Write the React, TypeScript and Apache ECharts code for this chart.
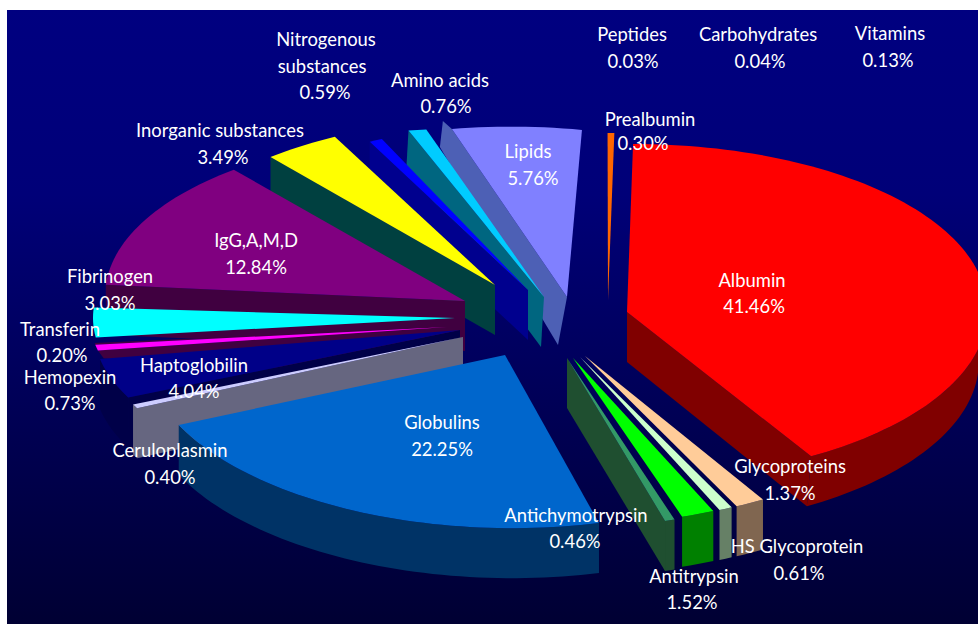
import React, { useEffect, useRef } from "react";
import * as echarts from "echarts";

// Plasma protein composition, clockwise from twelve o'clock.
const sliceNames = [
  "Albumin", "Glycoproteins", "HS Glycoprotein", "Antitrypsin", "Antichymotrypsin",
  "Globulins", "Ceruloplasmin", "Haptoglobilin", "Hemopexin", "Transferin",
  "Fibrinogen", "IgG,A,M,D", "Inorganic substances", "Nitrogenous\nsubstances", "Amino acids",
  "Lipids", "Vitamins", "Carbohydrates", "Peptides", "Prealbumin",
];
const sliceValues = [
  41.46, 1.37, 0.61, 1.52, 0.46,
  22.25, 0.4, 4.04, 0.73, 0.2,
  3.03, 12.84, 3.49, 0.59, 0.76,
  5.76, 0.13, 0.04, 0.03, 0.3,
];

const topColors = [
  "#ff0000", "#ffcc99", "#ccffcc", "#00ff00", "#339966",
  "#0066cc", "#ccccff", "#000088", "#ff00ff", "#400040",
  "#00ffff", "#800080", "#ffff00", "#0000ff", "#00ccff",
  "#8080ff", null, null, null, "#ff6600",
];
const wallColors = [
  "#800000", "#806650", "#668066", "#008000", "#1f4f30",
  "#003366", "#666680", "#000048", "#400040", "#400040",
  "#008080", "#400040", "#004040", "#00008e", "#006680",
  "#4d60b5", null, null, null, "#803300",
];

// Where each exploded wedge sits: apex and its own projected radii, lean and tilt.
type Pose = { ax: number; ay: number; rx: number; ry: number; back?: number; front?: number; tilt?: number };
const poses: Pose[] = [
  { ax: 627, ay: 312, rx: 360, ry: 168, back: 0.036 },
  { ax: 585, ay: 356, rx: 348, ry: 167 },
  { ax: 580, ay: 357, rx: 348, ry: 167 },
  { ax: 573, ay: 358, rx: 350, ry: 167 },
  { ax: 567, ay: 358, rx: 345, ry: 170 },
  { ax: 505, ay: 355, rx: 360, ry: 173, front: 0.05, tilt: 0.045 },
  { ax: 463, ay: 337, rx: 364, ry: 160 },
  { ax: 460, ay: 330, rx: 366, ry: 160 },
  { ax: 447, ay: 327, rx: 355, ry: 130 },
  { ax: 447, ay: 327, rx: 355, ry: 130 },
  { ax: 455, ay: 318, rx: 362, ry: 158 },
  { ax: 465, ay: 301, rx: 360, ry: 167, tilt: 0.03 },
  { ax: 495, ay: 285, rx: 352, ry: 167, back: 0.012 },
  { ax: 528, ay: 290, rx: 360, ry: 167, back: 0.05 },
  { ax: 544, ay: 297, rx: 392, ry: 160, back: 0.22, tilt: 0.32 },
  { ax: 567, ay: 297, rx: 364, ry: 166, back: 0.159, tilt: 0.23 },
  { ax: 608, ay: 300, rx: 360, ry: 167 },
  { ax: 608, ay: 300, rx: 360, ry: 167 },
  { ax: 608, ay: 300, rx: 360, ry: 167 },
  { ax: 608, ay: 300, rx: 360, ry: 167, back: 0.038 },
];

// Which cut face of a wedge shows, and how its corners drop from the top surface.
type Face = { edge: "start" | "end"; outerTop?: number[]; outerDrop?: number[]; innerDrop?: number[] };
const faces: Record<number, Face> = {
  0: { edge: "end" },
  4: { edge: "end" },
  6: { edge: "start" },
  7: { edge: "start" },
  8: { edge: "start", outerDrop: [6, 8] },
  11: { edge: "start" },
  12: { edge: "start" },
  13: { edge: "start" },
  14: { edge: "start", outerDrop: [-2, 35], innerDrop: [-3, 50] },
  15: { edge: "start", outerTop: [-9, -8], outerDrop: [-12, 18], innerDrop: [-9, 48] },
};
const rimWedges = [0, 1, 2, 3, 4, 5, 6, 7];
const rimShrink: Record<number, number> = { 0: 0.977 };
const paintOrder = [19, 18, 17, 16, 15, 14, 13, 12, 11, 10, 9, 8, 7, 6, 5, 0, 1, 2, 3, 4];

const WALL = 50;

// Centre of each text line of a label: name line(s), then the percentage.
const labelLines: number[][][] = [
  [[752, 280], [754, 306]],
  [[790, 466], [790, 493]],
  [[797, 546], [799, 573]],
  [[694, 576], [692, 602]],
  [[576, 515], [575, 541]],
  [[442, 422], [442, 449]],
  [[170, 450], [170, 477]],
  [[194, 365], [194, 391]],
  [[70, 377], [70, 403]],
  [[60, 329], [62, 355]],
  [[110, 276], [110, 303]],
  [[256, 240], [256, 267]],
  [[220, 130], [223, 157]],
  [[326, 39], [322, 66], [325, 92]],
  [[440, 80], [446, 106]],
  [[528, 151], [533, 178]],
  [[890, 33], [888, 60]],
  [[758, 34], [760, 61]],
  [[632, 34], [633, 61]],
  [[650, 119], [643, 143]],
];

const total = sliceValues.reduce((a, b) => a + b, 0);
const bounds = sliceValues.reduce<number[]>((acc, v) => [...acc, acc[acc.length - 1] + (v / total) * 360], [0]);

function project(i: number, deg: number, scale = 1): number[] {
  const p = poses[i];
  const t = (deg * Math.PI) / 180;
  const X = Math.sin(t);
  const Y = -Math.cos(t);
  const lean = Y < 0 ? p.back ?? 0 : p.front ?? 0;
  return [
    p.ax + p.rx * scale * X - lean * p.ry * Y,
    p.ay + p.ry * Y + (p.tilt ?? 0) * p.ry * X,
  ];
}

function arc(i: number, from: number, to: number, scale = 1): number[][] {
  const n = Math.max(2, Math.ceil(Math.abs(to - from) / 1.5));
  return Array.from({ length: n + 1 }, (_, k) => project(i, from + ((to - from) * k) / n, scale));
}

const shift = (pt: number[], d: number[]) => [pt[0] + d[0], pt[1] + d[1]];

function wedgeShapes(i: number) {
  const children: any[] = [];
  const top = topColors[i];
  const wall = wallColors[i];
  if (!top || !wall) return children;
  const start = bounds[i];
  const end = bounds[i + 1];
  const apex = [poses[i].ax, poses[i].ay];
  const shrink = rimShrink[i] ?? 1;
  const poly = (points: number[][], fill: string) => ({
    type: "polygon",
    shape: { points },
    style: { fill, stroke: "none" },
  });

  // Outer rim, only where the wedge runs along the near half of the circle.
  if (rimWedges.includes(i)) {
    const a = Math.max(start, 90);
    const b = Math.min(end, 270);
    if (b > a) {
      const upper = arc(i, a, b);
      const lower = arc(i, a, b, shrink).map((q) => shift(q, [0, WALL]));
      children.push(poly([...upper, ...lower.reverse()], wall));
    }
  }

  const face = faces[i];
  if (face) {
    const deg = face.edge === "start" ? start : end;
    const outer = project(i, deg);
    const outerBottom = face.outerDrop
      ? shift(outer, face.outerDrop)
      : shift(project(i, deg, shrink), [0, WALL]);
    children.push(
      poly(
        [
          shift(outer, face.outerTop ?? [0, 0]),
          outer,
          apex,
          shift(apex, face.innerDrop ?? [0, WALL]),
          outerBottom,
        ],
        wall,
      ),
    );
  }

  children.push(poly([apex, ...arc(i, start, end)], top));
  return children;
}

function labelElements() {
  const out: any[] = [];
  sliceNames.forEach((name, i) => {
    const lines = [...name.split("\n"), `${sliceValues[i].toFixed(2)}%`];
    lines.forEach((text, k) => {
      const [x, y] = labelLines[i][k];
      out.push({
        type: "text",
        x,
        y,
        z: 100,
        style: {
          text,
          fill: "#ffffff",
          font: '18.4px Lato, "Noto Sans", sans-serif',
          textAlign: "center",
          textVerticalAlign: "middle",
        },
      });
    });
  });
  return out;
}

export default function App() {
  const ref = useRef<HTMLDivElement>(null);
  useEffect(() => {
    const chart = echarts.init(ref.current!, undefined, { renderer: "svg" });
    chart.setOption({
      animation: false,
      backgroundColor: "#ffffff",
      graphic: [
        {
          type: "rect",
          z: -1,
          shape: { x: 7, y: 10, width: 971, height: 614 },
          style: {
            stroke: "none",
            fill: {
              type: "linear",
              x: 0,
              y: 0,
              x2: 0,
              y2: 1,
              colorStops: [
                { offset: 0, color: "#000080" },
                { offset: 0.3, color: "#000078" },
                { offset: 1, color: "#000033" },
              ],
            },
          },
        },
        ...labelElements(),
      ],
      series: [
        {
          type: "custom",
          coordinateSystem: "none",
          silent: true,
          z: 2,
          data: paintOrder.map((i) => [i, sliceValues[i]]),
          renderItem: (_params: any, api: any) => ({
            type: "group",
            children: wedgeShapes(api.value(0)),
          }),
        },
      ],
    });
    return () => chart.dispose();
  }, []);
  return <div ref={ref} style={{ position: "absolute", left: 0, top: 0, width: 978, height: 624 }} />;
}
